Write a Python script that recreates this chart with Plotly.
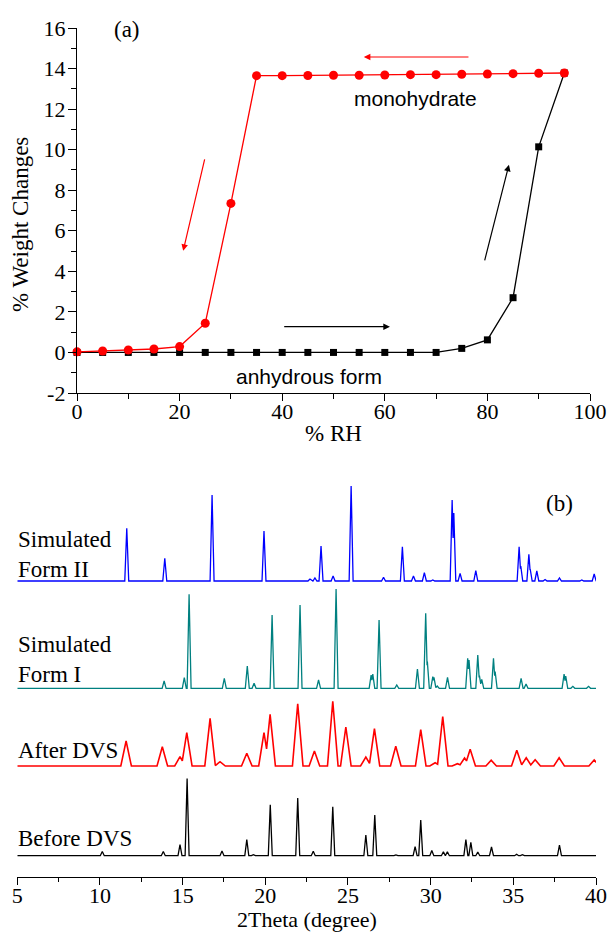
import plotly.graph_objects as go

# ---------------- (a) DVS isotherm data ----------------
rh = [0, 5, 10, 15, 20, 25, 30, 35, 40, 45, 50, 55, 60, 65, 70, 75, 80, 85, 90, 95]
sorption = [0, 0, 0, 0, 0, 0, 0, 0, 0, 0, 0, 0, 0, 0, 0.0, 0.2, 0.62, 2.7, 10.14, 13.78]
desorption = [0.03, 0.07, 0.12, 0.17, 0.29, 1.44, 7.35, 13.65, 13.65, 13.66, 13.67, 13.67,
              13.68, 13.70, 13.70, 13.72, 13.73, 13.75, 13.77, 13.78]
weight_tick_vals = [-2, 0, 2, 4, 6, 8, 10, 12, 14, 16]
weight_tick_text = ["-2", "0", "2", "4", "6", "8", "10", "12", "14", "16"]

# ---------------- (b) PXRD peak lists (2theta, intensity) ----------------
form2_pos = [11.62, 13.92, 16.78, 19.92, 22.7, 23.0, 23.37, 24.1, 25.19, 27.15, 28.29, 28.96,
             29.62, 30.13, 31.3, 31.4, 31.78, 32.73, 35.35, 35.45, 35.94, 36.02, 36.42, 36.92,
             37.79, 39.14, 39.89]
form2_int = [52.7, 22.7, 86, 50, 2, 3, 35, 5, 95, 3.7, 34.3, 5,
             8.3, 1, 81, 68, 7.7, 10.3, 34.3, 15, 26.7, 12, 10, 1.5,
             3, 1, 7]

form1_pos = [13.88, 15.1, 15.39, 17.52, 18.91, 19.32, 20.41, 22.1, 23.22, 24.28, 26.4, 26.5,
             26.88, 27.95, 29.2, 29.7, 29.8, 30.13, 30.2, 30.4, 31.02, 32.24, 32.32, 32.85,
             32.95, 33.09, 33.8, 33.9, 35.47, 35.77, 38.07, 38.17, 38.6, 39.55]
form1_int = [7.3, 10.7, 94, 10, 22.3, 5, 73.3, 83.3, 8.3, 99.3, 13.3, 14.3,
             68.3, 3.3, 19.3, 75, 26.7, 11.7, 11, 2.3, 11, 30, 28.3, 33.3,
             12.7, 9, 30, 16.7, 10, 4.3, 14.3, 12.3, 2, 2]

after_pos = [11.58, 13.77, 14.84, 15.25, 16.66, 17.26, 18.88, 19.92, 20.29, 21.96, 22.97,
             24.08, 24.87, 26.08, 26.6, 27.89, 29.4, 30.27, 30.73, 31.62, 32.05, 32.39,
             33.66, 35.21, 35.78, 36.32, 37.77, 39.89]
after_int = [25, 19.3, 9.3, 33.3, 47.7, 4.3, 12.7, 33.3, 51.7, 62.3, 15,
             64.7, 39, 9, 37.3, 19.7, 36.3, 3.3, 49.3, 2.3, 8, 16.7,
             5.7, 15.7, 8.3, 6.3, 8.3, 6]

before_pos = [10.14, 13.83, 14.84, 15.27, 17.38, 18.88, 19.28, 20.3, 21.96, 22.9, 24.08,
              26.08, 26.62, 27.9, 29.06, 29.4, 30.07, 30.77, 31.01, 32.13, 32.43, 32.85,
              33.68, 35.2, 35.55, 37.79]
before_int = [4.3, 4.3, 11, 77.3, 4.7, 16, 1, 51, 57.7, 4.5, 49,
              20.7, 40.7, 0.7, 9, 35.7, 5.3, 4, 4, 16, 13.3, 3.7,
              8.7, 1.5, 1, 10.7]

pattern_names = ["Simulated<br>Form II", "Simulated<br>Form I", "After DVS", "Before DVS"]
pattern_offsets = [295.5, 188.2, 110.5, 20.8]
pattern_widths = [0.12, 0.12, 0.32, 0.12]
pattern_colors = ["#0000FF", "#008080", "#FF0000", "#000000"]
two_theta_range = [5, 40]


def stick_profile(pos, hts, w, base, lo, hi):
    """Connect each read peak (position, height) to the baseline as a narrow tent."""
    pk = sorted(zip(pos, hts))
    xs, ys = [lo], [base]
    for i, (p, h) in enumerate(pk):
        if not (i > 0 and p - pk[i - 1][0] < 2 * w):
            xs.append(p - w)
            ys.append(base)
        xs.append(p)
        ys.append(base + h)
        if i + 1 < len(pk) and pk[i + 1][0] - p < 2 * w:
            pj, hj = pk[i + 1]
            xv = (h * (w + p) + hj * (pj - w)) / (h + hj)
            yv = h * (1 - (xv - p) / w)
            xs.append(xv)
            ys.append(base + max(yv, 0))
        else:
            xs.append(p + w)
            ys.append(base)
    xs.append(hi)
    ys.append(base)
    return xs, ys


W, H = 611, 932


def px(x):
    return x / W


def py(y):
    return (H - y) / H


fig = go.Figure()

# (a) traces
fig.add_trace(go.Scatter(x=rh, y=sorption, mode="lines+markers", xaxis="x", yaxis="y",
                         line=dict(color="black", width=1.3),
                         marker=dict(symbol="square", size=7, color="black"),
                         cliponaxis=False, showlegend=False))
fig.add_trace(go.Scatter(x=rh, y=desorption, mode="lines+markers", xaxis="x", yaxis="y",
                         line=dict(color="#FF0000", width=1.3),
                         marker=dict(symbol="circle", size=9, color="#FF0000"),
                         cliponaxis=False, showlegend=False))

# (b) traces
all_pos = [form2_pos, form1_pos, after_pos, before_pos]
all_int = [form2_int, form1_int, after_int, before_int]
for pos, hts, w, off, col in zip(all_pos, all_int, pattern_widths, pattern_offsets, pattern_colors):
    xs, ys = stick_profile(pos, hts, w, off, two_theta_range[0], two_theta_range[1])
    fig.add_trace(go.Scatter(x=xs, y=ys, mode="lines", xaxis="x2", yaxis="y2",
                             line=dict(color=col, width=1.6 if col == "#FF0000" else 1.3),
                             cliponaxis=False, showlegend=False))

serif = "Liberation Serif, Times New Roman, serif"
sans = "Liberation Sans, Arial, sans-serif"

axis_common = dict(showline=True, linecolor="black", linewidth=1.3, ticks="outside",
                   tickcolor="black", tickwidth=1.2, showgrid=False, zeroline=False,
                   automargin=False,
                   tickfont=dict(family=serif, size=22, color="black"))

fig.update_layout(
    width=W, height=H, margin=dict(l=0, r=0, t=0, b=0, autoexpand=False),
    paper_bgcolor="white", plot_bgcolor="white",
    xaxis=dict(domain=[px(77), px(590)], range=[0, 100], dtick=20, ticklen=7,
               ticklabelstandoff=-9,
               minor=dict(dtick=10, ticks="outside", ticklen=5, tickcolor="black", tickwidth=1.2),
               anchor="y", **axis_common),
    yaxis=dict(domain=[py(393), py(28)], range=[-2, 16], tickmode="array",
               tickvals=weight_tick_vals, ticktext=weight_tick_text, ticklen=8,
               ticklabelstandoff=-2,
               minor=dict(dtick=1, ticks="outside", ticklen=5, tickcolor="black", tickwidth=1.2),
               anchor="x", **axis_common),
    xaxis2=dict(domain=[px(17.3), px(596)], range=two_theta_range, dtick=5, ticklen=7,
                ticklabelstandoff=-8,
                minor=dict(dtick=2.5, ticks="outside", ticklen=4, tickcolor="black", tickwidth=1.2),
                anchor="y2", **axis_common),
    yaxis2=dict(domain=[py(876.5), py(470)], range=[0, 406.5], visible=False, anchor="x2"),
)

ann = []
# axis titles
ann.append(dict(text="% Weight Changes", x=px(20), y=py(225), xref="paper", yref="paper",
                textangle=-90, showarrow=False, font=dict(family=serif, size=23, color="black"),
                xanchor="center", yanchor="middle"))
ann.append(dict(text="% RH", x=px(333.5), y=py(433), xref="paper", yref="paper",
                showarrow=False, font=dict(family=serif, size=23, color="black"),
                xanchor="center", yanchor="middle"))
ann.append(dict(text="2Theta (degree)", x=px(306.7), y=py(919.5), xref="paper", yref="paper",
                showarrow=False, font=dict(family=serif, size=22, color="black"),
                xanchor="center", yanchor="middle"))
# panel labels
ann.append(dict(text="(a)", x=px(127), y=py(30), xref="paper", yref="paper", showarrow=False,
                font=dict(family=serif, size=23, color="black"), xanchor="center", yanchor="middle"))
ann.append(dict(text="(b)", x=px(559), y=py(503), xref="paper", yref="paper", showarrow=False,
                font=dict(family=serif, size=23, color="black"), xanchor="center", yanchor="middle"))
ann.append(dict(text="monohydrate", x=px(415), y=py(99), xref="paper", yref="paper", showarrow=False,
                font=dict(family=sans, size=21, color="black"), xanchor="center", yanchor="middle"))
ann.append(dict(text="anhydrous form", x=px(309), y=py(376), xref="paper", yref="paper", showarrow=False,
                font=dict(family=sans, size=21, color="black"), xanchor="center", yanchor="middle"))
# pattern labels
label_y = [554.5, 659, 750, 838]
for name, ly in zip(pattern_names, label_y):
    ann.append(dict(text=name, x=px(16), y=py(ly), xref="paper", yref="paper", showarrow=False,
                    align="left", font=dict(family=serif, size=23, color="black"),
                    xanchor="left", yanchor="middle"))

# direction arrows in panel (a)
arrows = [
    (55.9, 14.57, 76.6, 14.57, "#FF0000"),
    (20.7, 5.01, 24.95, 9.6, "#FF0000"),
    (61.0, 1.27, 40.1, 1.27, "black"),
    (84.2, 9.26, 79.4, 4.47, "black"),
]
for hx, hy, tx, ty, col in arrows:
    ann.append(dict(x=hx, y=hy, ax=tx, ay=ty, xref="x", yref="y", axref="x", ayref="y",
                    text="", showarrow=True, arrowhead=2, arrowsize=1.1, arrowwidth=1.2,
                    arrowcolor=col, standoff=0, startstandoff=0))

fig.update_layout(annotations=ann)
# remove the page's default 8px body margin so the figure fills the window exactly
fig.write_html("out.html", config={"displayModeBar": False},
               post_script="document.body.style.margin='0px';")
